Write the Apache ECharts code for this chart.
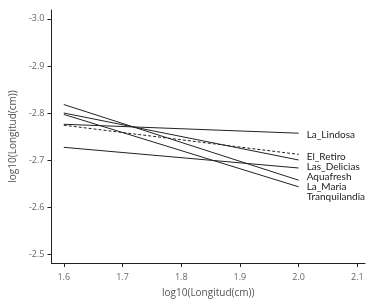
<!DOCTYPE html>
<html>
<head>
<meta charset="utf-8">
<script src="https://cdn.jsdelivr.net/npm/echarts@6/dist/echarts.min.js"></script>
<style>
  html, body { margin: 0; padding: 0; background: #fff; }
  #chart { width: 373px; height: 303px; }
</style>
</head>
<body>
<div id="chart"></div>
<script>
// datos
var xs = [1.6, 2.0]
var names = ['La_Lindosa', 'El_Retiro', 'Las_Delicias', 'Aquafresh', 'La_Maria', 'Tranquilandia']
var startY = [-2.776, -2.774, -2.800, -2.727, -2.818, -2.797]
var endY = [-2.757, -2.712, -2.700, -2.683, -2.657, -2.643]
var xTicks = [1.6, 1.7, 1.8, 1.9, 2.0, 2.1]
var yTicks = [-3.0, -2.9, -2.8, -2.7, -2.6, -2.5]

var font = 'Open Sans'
var series = []
for (var i = 0; i < names.length; i++) {
  series.push({
    name: names[i],
    type: 'line',
    symbol: 'none',
    silent: true,
    data: [[xs[0], startY[i]], [xs[1], endY[i]]],
    lineStyle: {
      color: '#222',
      width: 1,
      type: names[i] === 'El_Retiro' ? [3, 2] : 'solid'
    },
    endLabel: {
      show: true,
      formatter: '{a}',
      color: '#222',
      fontFamily: 'Lato',
      fontSize: 10,
      lineHeight: 8,
      distance: 8,
      offset: [0, 2]
    },
    labelLine: {
      show: true,
      lineStyle: { color: '#222', width: 0.8 }
    },
    labelLayout: { moveOverlap: 'shiftY' }
  })
}

var chart = echarts.init(document.getElementById('chart'))
chart.setOption({
  animation: false,
  grid: { left: 43, right: 8, top: 10, bottom: 39 },
  xAxis: {
    type: 'value',
    min: 1.579,
    max: 2.113,
    name: 'log10(Longitud(cm))',
    nameLocation: 'middle',
    nameGap: 25,
    nameTextStyle: { color: '#555', fontFamily: font, fontSize: 10 },
    splitLine: { show: false },
    axisLine: { lineStyle: { color: '#222', width: 1 } },
    axisTick: { length: 4, customValues: xTicks, lineStyle: { color: '#222' } },
    axisLabel: {
      customValues: xTicks,
      color: '#666',
      fontFamily: font,
      fontSize: 9,
      margin: 10,
      formatter: function (v) { return v.toFixed(1) }
    }
  },
  yAxis: {
    type: 'value',
    inverse: true,
    min: -3.019,
    max: -2.481,
    name: 'log10(Longitud(cm))',
    nameLocation: 'middle',
    nameGap: 30,
    nameTextStyle: { color: '#555', fontFamily: font, fontSize: 10 },
    splitLine: { show: false },
    axisLine: { show: true, lineStyle: { color: '#222', width: 1 } },
    axisTick: { show: true, length: 4, customValues: yTicks, lineStyle: { color: '#222' } },
    axisLabel: {
      customValues: yTicks,
      color: '#666',
      fontFamily: font,
      fontSize: 9,
      margin: 7,
      formatter: function (v) { return v.toFixed(1) }
    }
  },
  series: series
})
</script>
</body>
</html>
